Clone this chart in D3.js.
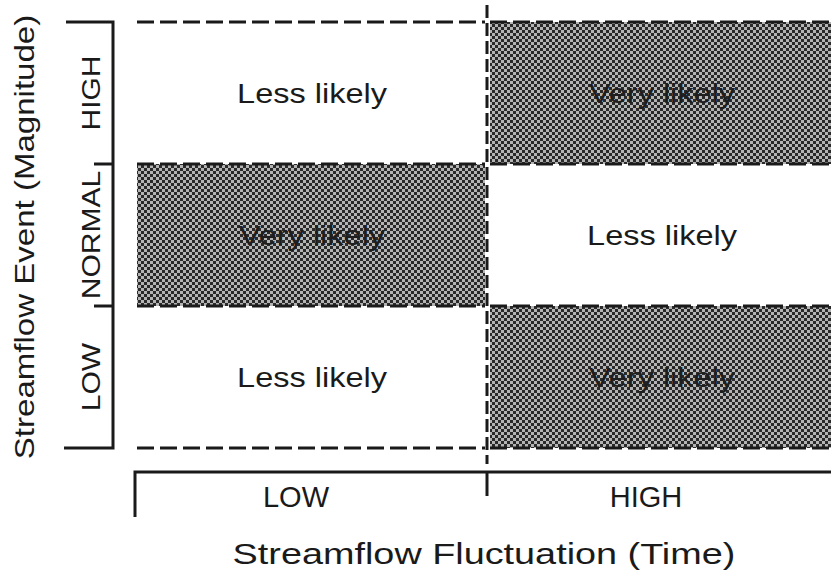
<!DOCTYPE html>
<html>

<head>
    <title>Streamflow matrix</title>
    <script src="https://d3js.org/d3.v7.min.js"></script>
    <style>
        body {
            margin: 0;
            padding: 0;
            background: #fff;
        }

        text {
            font-family: "Liberation Sans", Arial, sans-serif;
            fill: #1a1a1a;
        }
    </style>
</head>

<body>
    <script>
        // categories
        var fluctuation = ["LOW", "HIGH"];          // x axis (time)
        var magnitude = ["HIGH", "NORMAL", "LOW"];  // y axis (magnitude)
        // likelihood per magnitude row, per fluctuation column
        var likelihood = [
            ["Less likely", "Very likely"],
            ["Very likely", "Less likely"],
            ["Less likely", "Very likely"]
        ];
        var shadedLabel = "Very likely";
        var xTitle = "Streamflow Fluctuation (Time)";
        var yTitle = "Streamflow Event (Magnitude)";

        var width = 831,
            height = 576;

        var svg = d3.select("body").append("svg")
            .attr("width", width)
            .attr("height", height);

        svg.append("rect").attr("width", width).attr("height", height).attr("fill", "#fff");

        // halftone checker fill
        var pat = svg.append("defs").append("pattern")
            .attr("id", "halftone")
            .attr("patternUnits", "userSpaceOnUse")
            .attr("width", 6).attr("height", 6);
        pat.append("rect").attr("width", 6).attr("height", 6).attr("fill", "#b4b4b4");
        pat.append("rect").attr("width", 3).attr("height", 3).attr("fill", "#2a2a2a");
        pat.append("rect").attr("x", 3).attr("y", 3).attr("width", 3).attr("height", 3).attr("fill", "#2a2a2a");

        var x = d3.scaleBand().domain(fluctuation).range([137, 837]);
        var y = d3.scaleBand().domain(magnitude).range([22, 448]);

        var cells = [];
        magnitude.forEach(function (m, i) {
            fluctuation.forEach(function (f, j) {
                cells.push({ m: m, f: f, label: likelihood[i][j] });
            });
        });

        // stretch text horizontally (the original lettering is wide)
        function stretch(sel, k) {
            sel.each(function () {
                var len = this.getComputedTextLength();
                d3.select(this).attr("textLength", len * k).attr("lengthAdjust", "spacingAndGlyphs");
            });
        }

        // inset from the middle divider
        function x0(d) { return x(d.f) + (d.f === fluctuation[0] ? 0 : 3); }
        function x1(d) { return x(d.f) + x.bandwidth() - (d.f === fluctuation[0] ? 2 : 0); }

        // shaded cells
        svg.selectAll("rect.cell")
            .data(cells.filter(function (d) { return d.label === shadedLabel; }))
            .enter().append("rect")
            .attr("class", "cell")
            .attr("x", x0)
            .attr("y", function (d) { return y(d.m); })
            .attr("width", function (d) { return x1(d) - x0(d); })
            .attr("height", y.bandwidth())
            .attr("fill", "url(#halftone)");

        // dashed horizontal edges of every cell
        var edges = [];
        cells.forEach(function (d) {
            edges.push({ d: d, yy: y(d.m) });
            if (d.m === magnitude[magnitude.length - 1]) edges.push({ d: d, yy: y(d.m) + y.bandwidth() });
        });
        svg.selectAll("line.edge")
            .data(edges)
            .enter().append("line")
            .attr("class", "edge")
            .attr("x1", function (e) { return x0(e.d); })
            .attr("x2", function (e) { return x1(e.d); })
            .attr("y1", function (e) { return e.yy; })
            .attr("y2", function (e) { return e.yy; })
            .attr("stroke", "#1a1a1a")
            .attr("stroke-width", 3)
            .attr("stroke-dasharray", "17,6");

        // dashed vertical divider
        svg.append("line")
            .attr("x1", x(fluctuation[1])).attr("x2", x(fluctuation[1]))
            .attr("y1", 5).attr("y2", 464)
            .attr("stroke", "#1a1a1a")
            .attr("stroke-width", 3)
            .attr("stroke-dasharray", "13,5");

        // cell labels
        svg.selectAll("text.cell")
            .data(cells)
            .enter().append("text")
            .attr("class", "cell")
            .attr("x", function (d) { return x(d.f) + x.bandwidth() / 2; })
            .attr("y", function (d) { return y(d.m) + y.bandwidth() / 2; })
            .attr("dy", "0.36em")
            .attr("text-anchor", "middle")
            .style("font-size", "28px")
            .style("fill", function (d) { return d.label === shadedLabel ? "#1e1e1e" : "#1a1a1a"; })
            .text(function (d) { return d.label; })
            .call(stretch, 1.16);

        // left bracket axis
        var axisY = svg.append("g").attr("stroke", "#1a1a1a").attr("stroke-width", 3).attr("fill", "none");
        var yTop = y.range()[0], yBot = y.range()[1];
        axisY.append("path")
            .attr("d", "M66," + yTop + "H113V" + yBot + "H64");
        axisY.selectAll("line")
            .data(magnitude.slice(1))
            .enter().append("line")
            .attr("x1", 94).attr("x2", 113)
            .attr("y1", function (d) { return y(d); })
            .attr("y2", function (d) { return y(d); });

        svg.selectAll("text.ylab")
            .data(magnitude)
            .enter().append("text")
            .attr("class", "ylab")
            .attr("transform", function (d) { return "translate(100," + (y(d) + y.bandwidth() / 2) + ") rotate(-90)"; })
            .attr("text-anchor", "middle")
            .style("font-size", "25px")
            .text(function (d) { return d; })
            .call(stretch, 1.2);

        svg.append("text")
            .attr("transform", "translate(34," + ((yTop + yBot) / 2 + 2) + ") rotate(-90)")
            .attr("text-anchor", "middle")
            .style("font-size", "28px")
            .text(yTitle)
            .call(stretch, 1.18);

        // bottom bracket axis
        var axisX = svg.append("g").attr("stroke", "#1a1a1a").attr("stroke-width", 3).attr("fill", "none");
        axisX.append("path")
            .attr("d", "M135,517V472H" + width);
        axisX.selectAll("line")
            .data(fluctuation.slice(1))
            .enter().append("line")
            .attr("x1", function (d) { return x(d); }).attr("x2", function (d) { return x(d); })
            .attr("y1", 472).attr("y2", 496);

        svg.selectAll("text.xlab")
            .data(fluctuation)
            .enter().append("text")
            .attr("class", "xlab")
            .attr("x", function (d) { return x(d) + x.bandwidth() / 2 - 16; })
            .attr("y", 507)
            .attr("text-anchor", "middle")
            .style("font-size", "29px")
            .text(function (d) { return d; });

        svg.append("text")
            .attr("x", x(fluctuation[1]) - 3)
            .attr("y", 564)
            .attr("text-anchor", "middle")
            .style("font-size", "30px")
            .text(xTitle)
            .call(stretch, 1.26);
    </script>
</body>

</html>
